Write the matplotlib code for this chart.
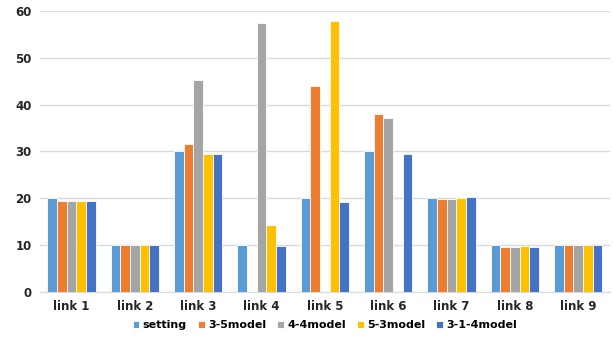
import matplotlib.pyplot as plt
import numpy as np

links = ['link 1', 'link 2', 'link 3', 'link 4', 'link 5', 'link 6', 'link 7', 'link 8', 'link 9']
setting = [20, 10, 30, 10, 20, 30, 20, 10, 10]
model_3_5 = [19.5, 10, 31.6, 0, 44.0, 37.9, 19.8, 9.6, 10.1]
model_4_4 = [19.5, 10, 45.2, 57.3, 0, 37.1, 19.8, 9.6, 10.1]
model_5_3 = [19.5, 10, 29.4, 14.3, 57.9, 0, 20.1, 9.7, 10.1]
model_3_1_4 = [19.5, 10, 29.5, 9.8, 19.2, 29.5, 20.2, 9.6, 10.1]

series = [
    ('setting', setting, '#5B9BD5'),
    ('3-5model', model_3_5, '#ED7D31'),
    ('4-4model', model_4_4, '#A5A5A5'),
    ('5-3model', model_5_3, '#FFC000'),
    ('3-1-4model', model_3_1_4, '#4472C4'),
]

fig = plt.figure(figsize=(6.13, 3.39), dpi=100)
ax = fig.add_axes([0.065, 0.139, 0.93, 0.829])

x = np.arange(len(links))
w = 0.153
for i, (name, vals, col) in enumerate(series):
    ax.bar(x + (i - 2) * w, vals, w, color=col, edgecolor='white', linewidth=0.6, label=name, zorder=3)

ax.set_xlim(-0.5, len(links) - 0.5)
ax.set_ylim(0, 60)
ax.set_yticks(range(0, 61, 10))
ax.set_xticks(x)
ax.set_xticklabels(links)
ax.grid(axis='y', color='#D9D9D9', linewidth=1, zorder=0)
for s in ['top', 'right', 'left']:
    ax.spines[s].set_visible(False)
ax.spines['bottom'].set_color('#D9D9D9')
ax.tick_params(length=0, labelsize=8.5, colors='#262626', pad=6)
for lbl in ax.get_xticklabels() + ax.get_yticklabels():
    lbl.set_fontweight('bold')

ax.legend(loc='upper center', bbox_to_anchor=(0.5, -0.065), ncol=5, frameon=False,
          prop={'weight': 'bold', 'size': 8}, handlelength=0.6, handleheight=0.6,
          handletextpad=0.3, columnspacing=1.0)

fig.savefig('out.png', dpi=100)
